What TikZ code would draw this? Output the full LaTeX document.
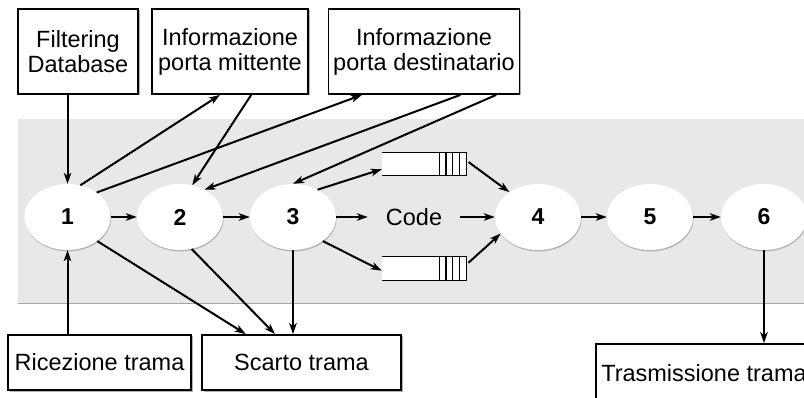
\documentclass[tikz,border=0pt]{standalone}
\usepackage{fontspec}
\setmainfont{Liberation Sans}
\usetikzlibrary{arrows.meta,shapes.geometric,shadows}
\definecolor{BandGray}{HTML}{E8E8E8}

\tikzset{
  box/.style={draw,line width=1.8pt,fill=white,align=center,inner sep=0pt,
    drop shadow={shadow xshift=1.5pt,shadow yshift=-1.5pt,fill=gray,opacity=.6}},
  stage/.style={ellipse,fill=white,minimum width=86pt,minimum height=66pt,inner sep=0pt,
    drop shadow={shadow xshift=.6pt,shadow yshift=-1.4pt,fill=gray,opacity=.5},
    font=\bfseries\fontsize{23}{23}\selectfont},
  queue/.style={fill=white,minimum width=84pt,minimum height=23pt,inner sep=0pt},
  qline/.style={line width=1.3pt},
  flow/.style={line width=2pt,-{Stealth[length=11pt,width=7.5pt,inset=3pt]}},
}

\begin{document}
\begin{tikzpicture}[x=1pt,y=-1pt,font=\fontsize{23.5}{25}\selectfont]
  \clip (0,0) rectangle (804,398);
  % band behind the stages
  \fill[BandGray] (18,119) rectangle (804,304);
  \draw[gray!70,line width=1pt] (18,304) -- (804,304);

  % boxes above and below the band
  \node[box,minimum width=120pt,minimum height=85pt] (fdb) at (78,51.5) {Filtering\\Database};
  \node[box,minimum width=156pt,minimum height=85pt] (mitt) at (230,51.5) {Informazione\\porta mittente};
  \node[box,minimum width=191pt,minimum height=85pt] (dest) at (424,51.5) {Informazione\\porta destinatario};
  \node[box,minimum width=183pt,minimum height=55pt] (ric) at (99.5,362.5) {Ricezione trama};
  \node[box,minimum width=199pt,minimum height=55pt] (scarto) at (301.5,362.5) {Scarto trama};
  \node[box,minimum width=216pt,minimum height=58pt] (trasm) at (704,373) {Trasmissione trama};

  % stages 1..6
  \foreach \n/\x in {1/67.5,2/180,3/293,4/538,5/650,6/764}
    \node[stage] (e\n) at (\x,217) {\n};

  % code and the two queues
  \node[minimum width=92pt,inner sep=0pt] (code) at (414,217) {Code};
  \node[queue] (q1) at (424,164) {};
  \node[queue] (q2) at (424,268.5) {};
  \foreach \q in {q1,q2} {
    \draw[qline] (\q.north west) -- (\q.north east) -- (\q.south east) -- (\q.south west);
    \foreach \k in {1,...,4}
      \draw[qline] ([xshift=-\k*6.7pt]\q.north east) -- ([xshift=-\k*6.7pt]\q.south east);
  }

  % connectors
  \draw[flow] (e1.north |- fdb.south) -- (e1.north);
  \draw[flow] (e1.68) -- (mitt.257);
  \draw[flow] (e1.40) -- (dest.215);
  \draw[flow] (mitt.296) -- (e2.69);
  \draw[flow] (dest.310) -- (e2.48);
  \draw[flow] (dest.329) -- (e3.north);
  \draw[flow] (e3.48) -- (q1.187);
  \draw[flow] (e3.321) -- (q2.183);
  \draw[flow,shorten <=3pt] (q1.5) -- (e4.139);
  \draw[flow,shorten <=3pt] (q2.5) -- (e4.204);
  \foreach \a/\b in {e1/e2,e2/e3,e3/code,code/e4,e4/e5,e5/e6}
    \draw[flow] (\a) -- (\b);
  \draw[flow] (e1.south |- ric.north) -- (e1.south);
  \draw[flow] (e1.321) -- (scarto.153);
  \draw[flow] (e2.290) -- (scarto.133);
  \draw[flow] (e3.south) -- (e3.south |- scarto.north);
  \draw[flow] (e6.south) -- (e6.south |- trasm.north);
\end{tikzpicture}
\end{document}
